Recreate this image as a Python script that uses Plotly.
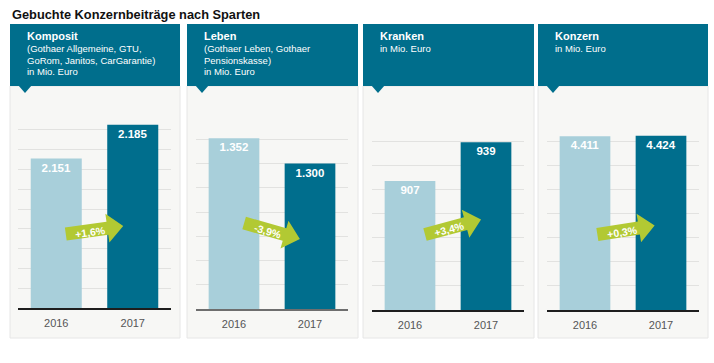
import math
import plotly.graph_objects as go

# ---------------- data ----------------
years = ["2016", "2017"]
panel_titles = ["Komposit", "Leben", "Kranken", "Konzern"]
panel_subtitles = [
    ["(Gothaer Allgemeine, GTU,", "GoRom, Janitos, CarGarantie)", "in Mio. Euro"],
    ["(Gothaer Leben, Gothaer", "Pensionskasse)", "in Mio. Euro"],
    ["in Mio. Euro"],
    ["in Mio. Euro"],
]
values_2016 = [2151, 1352, 907, 4411]
values_2017 = [2185, 1300, 939, 4424]
change_labels = ["+1,6%", "-3,9%", "+3,4%", "+0,3%"]
title_text = "Gebuchte Konzernbeiträge nach Sparten"

# ---------------- styling / layout ----------------
W, H = 714, 363
FONT = "Liberation Sans, Arial, sans-serif"
LIGHT = "#a8cfda"
DARK = "#006e8d"
HEAD = "#006e8c"
GREEN = "#b2c933"

panel_left = [10, 187, 363, 538]
panel_right = [180, 358, 534, 708]
axis_x = [(18, 171), (196, 348), (372, 524), (547, 699)]
axis_y = [(308, 110), (309, 115), (310, 117), (310, 117)]   # (bottom, top) in px
y_ranges = [(2000, 2200), (1000, 1400), (800, 960), (0, 4900)]
y_dticks = [20, 50, 20, 612.5]
axis_line_color = ["#1e1e1e", "#6e6e6e", "#1e1e1e", "#1e1e1e"]
axis_line_width = [1.5, 2, 1.5, 1.5]
arrow_angles = [-8, 16, -15, -9]
arrow_dx = [0, 0, 5, 3]
arrow_cy = [230, 231, 227, 230]


def px(x):
    return x / W


def py(y):
    return 1 - y / H


fig = go.Figure()
layout = dict(
    width=W, height=H,
    margin=dict(l=0, r=0, t=0, b=0),
    paper_bgcolor="white",
    plot_bgcolor="rgba(0,0,0,0)",
    showlegend=False,
    bargap=0.333,
    separators=",.",
    font=dict(family=FONT),
)

shapes = []
annotations = []

# title
annotations.append(dict(
    text="<b>" + title_text + "</b>", x=px(10), y=py(15), xref="paper", yref="paper",
    xanchor="left", yanchor="middle", showarrow=False,
    font=dict(family=FONT, size=12.8, color="#111111"),
))

for i in range(4):
    n = "" if i == 0 else str(i + 1)
    l, r = panel_left[i], panel_right[i]
    # panel background
    shapes.append(dict(type="rect", xref="paper", yref="paper",
                       x0=px(l), x1=px(r), y0=py(338), y1=py(86),
                       fillcolor="#f7f7f5", line=dict(color="#e6e6e6", width=1),
                       layer="below"))
    # header band
    shapes.append(dict(type="rect", xref="paper", yref="paper",
                       x0=px(l), x1=px(r), y0=py(86), y1=py(24),
                       fillcolor=HEAD, line=dict(width=0), layer="above"))
    # header pointer
    shapes.append(dict(type="path", xref="paper", yref="paper",
                       path=f"M {px(l+8)},{py(85)} L {px(l+22)},{py(85)} L {px(l+15)},{py(93)} Z",
                       fillcolor=HEAD, line=dict(width=0), layer="above"))
    # header texts
    annotations.append(dict(
        text="<b>" + panel_titles[i] + "</b>", x=px(l + 15), y=py(36),
        xref="paper", yref="paper", xanchor="left", yanchor="middle",
        showarrow=False, font=dict(family=FONT, size=11, color="white")))
    for k, line in enumerate(panel_subtitles[i]):
        annotations.append(dict(
            text=line, x=px(l + 15), y=py(48.5 + 11.5 * k),
            xref="paper", yref="paper", xanchor="left", yanchor="middle",
            showarrow=False, font=dict(family=FONT, size=9.5, color="white")))

    # axes
    xb, xt = axis_x[i]
    yb, yt = axis_y[i]
    layout["xaxis" + n] = dict(
        domain=[px(xb), px(xt)], anchor="y" + n, type="category",
        showline=True, linecolor=axis_line_color[i], linewidth=axis_line_width[i],
        showgrid=False, zeroline=False, ticks="",
        ticklabelstandoff=4,
        tickfont=dict(family=FONT, size=11, color="#555555"),
        fixedrange=True,
    )
    layout["yaxis" + n] = dict(
        domain=[py(yb), py(yt)], anchor="x" + n,
        range=list(y_ranges[i]), tick0=y_ranges[i][0], dtick=y_dticks[i],
        showgrid=True, gridcolor="#e2e2e0", gridwidth=1,
        showticklabels=False, zeroline=False, showline=False, ticks="",
        fixedrange=True,
    )

    fig.add_trace(go.Bar(
        x=years, y=[values_2016[i], values_2017[i]],
        xaxis="x" + n, yaxis="y" + n,
        marker=dict(color=[LIGHT, DARK], line=dict(width=0)),
        texttemplate="<b>%{y:,.0f}</b>", textposition="inside",
        insidetextanchor="end", textangle=0, constraintext="none",
        textfont=dict(family=FONT, size=11.5, color="white"),
        hoverinfo="skip",
    ))

    # change arrow
    cx = (xb + xt) / 2 + arrow_dx[i]
    cy = arrow_cy[i]
    a = math.radians(arrow_angles[i])
    local = [(-29, -6.5), (13, -6.5), (13, -14.5), (29, 0), (13, 14.5), (13, 6.5), (-29, 6.5)]
    pts = []
    for (u, v) in local:
        X = cx + u * math.cos(a) - v * math.sin(a)
        Y = cy + u * math.sin(a) + v * math.cos(a)
        pts.append(f"{px(X)},{py(Y)}")
    shapes.append(dict(type="path", xref="paper", yref="paper",
                       path="M " + " L ".join(pts) + " Z",
                       fillcolor=GREEN, line=dict(width=0), layer="above"))
    tu, tv = -4, 1
    TX = cx + tu * math.cos(a) - tv * math.sin(a)
    TY = cy + tu * math.sin(a) + tv * math.cos(a)
    annotations.append(dict(
        text="<b>" + change_labels[i] + "</b>", x=px(TX), y=py(TY),
        xref="paper", yref="paper", xanchor="center", yanchor="middle",
        textangle=arrow_angles[i], showarrow=False,
        font=dict(family=FONT, size=10.5, color="white")))

layout["shapes"] = shapes
layout["annotations"] = annotations
fig.update_layout(**layout)
fig.write_html(
    "out.html",
    config={"displayModeBar": False, "responsive": False},
    post_script="document.body.style.margin='0';document.body.style.overflow='hidden';",
)
